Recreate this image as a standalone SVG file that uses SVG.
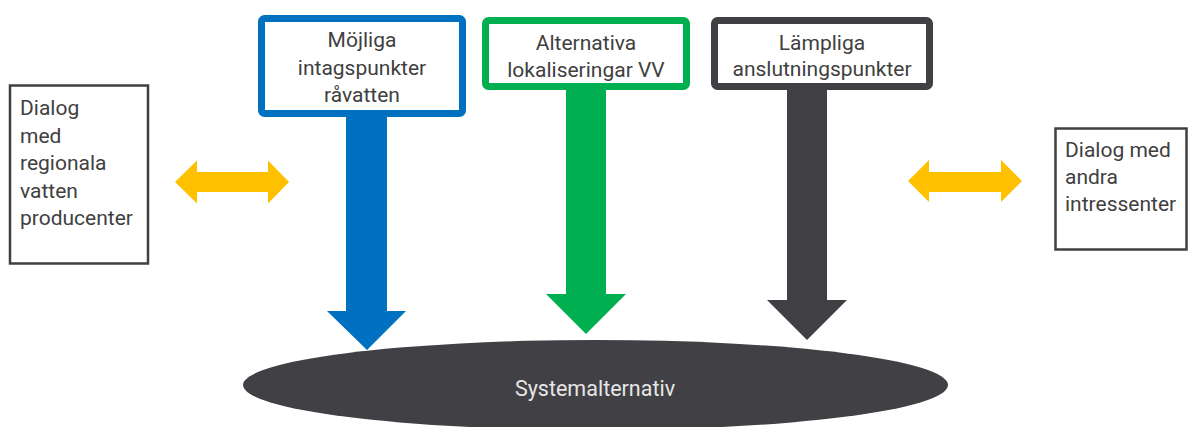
<svg xmlns="http://www.w3.org/2000/svg" width="1188" height="427" viewBox="0 0 1188 427">
  <style>
    .lbl { font-family: Roboto, "Liberation Sans", sans-serif; font-size: 21px; fill: #404040; }
    .mid { text-anchor: middle; }
    .plain { fill: #ffffff; stroke: #404040; stroke-width: 2.5; }
    .frame { fill: #ffffff; stroke-width: 7; }
    .yellow { fill: #FFC000; }
  </style>
  <rect width="1188" height="427" fill="#ffffff"/>

  <g id="connectors">
    <polygon fill="#0070C0" points="346,112 387,112 387,311 406,311 367,350 327,311 346,311"/>
    <polygon fill="#00B050" points="566,86 606,86 606,294 626,294 586,334 546,294 566,294"/>
    <polygon fill="#404044" points="787,86 827,86 827,300 847,300 807,340 767,300 787,300"/>
    <polygon class="yellow" points="175,182 197,160.5 197,172 268,172 268,160.5 289,182 268,203.5 268,192 197,192 197,203.5"/>
    <polygon class="yellow" points="908,181 929,160 929,172 1001,172 1001,160 1022,181 1001,202 1001,192 929,192 929,202"/>
  </g>

  <g id="node-systemalternativ">
    <ellipse cx="595.5" cy="385" rx="352.5" ry="45" fill="#414045"/>
    <text x="595" y="396" class="mid" style="font-family: Roboto, 'Liberation Sans', sans-serif; font-size: 21.5px; fill: #e6e6e6;">Systemalternativ</text>
  </g>

  <g id="node-intagspunkter">
    <rect x="261.5" y="18.5" width="201" height="95" rx="3" class="frame" stroke="#0070C0"/>
    <text class="lbl mid" x="362" y="47">Möjliga</text>
    <text class="lbl mid" x="362" y="74.5">intagspunkter</text>
    <text class="lbl mid" x="362" y="102">råvatten</text>
  </g>

  <g id="node-lokaliseringar">
    <rect x="485.5" y="20.5" width="201" height="66" rx="3" class="frame" stroke="#00B050"/>
    <text class="lbl mid" x="586" y="50">Alternativa</text>
    <text class="lbl mid" x="586" y="77">lokaliseringar VV</text>
  </g>

  <g id="node-anslutningspunkter">
    <rect x="714.5" y="20.5" width="215" height="66" rx="3" class="frame" stroke="#404044"/>
    <text class="lbl mid" x="822" y="50">Lämpliga</text>
    <text class="lbl mid" x="822" y="76">anslutningspunkter</text>
  </g>

  <g id="node-dialog-regionala">
    <rect x="10" y="85.5" width="138" height="178" class="plain"/>
    <text class="lbl" x="20" y="115">Dialog</text>
    <text class="lbl" x="20" y="143">med</text>
    <text class="lbl" x="20" y="170">regionala</text>
    <text class="lbl" x="20" y="198">vatten</text>
    <text class="lbl" x="20" y="225">producenter</text>
  </g>

  <g id="node-dialog-andra">
    <rect x="1055.5" y="128.5" width="131" height="121" class="plain"/>
    <text class="lbl" x="1065" y="157">Dialog med</text>
    <text class="lbl" x="1065" y="184">andra</text>
    <text class="lbl" x="1065" y="211">intressenter</text>
  </g>
</svg>
